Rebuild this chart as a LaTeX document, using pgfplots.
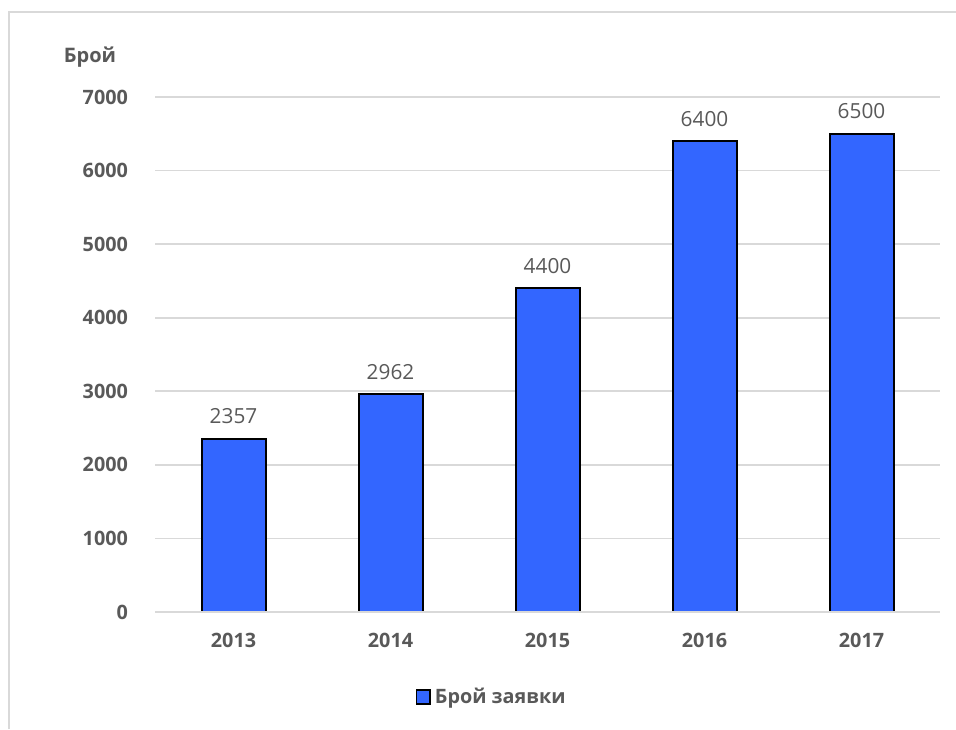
\documentclass[border=0pt]{standalone}
\usepackage{pgfplots}
\pgfplotsset{compat=1.18}
\usepackage{fontspec}
\setmainfont{Open Sans}
\definecolor{barblue}{RGB}{51,102,255}
\definecolor{txtgray}{RGB}{89,89,89}
\definecolor{gridgray}{RGB}{217,217,217}
\begin{document}
\begin{tikzpicture}[x=1pt,y=1pt]
\useasboundingbox (0,0) rectangle (478,364.5);
% chart frame (left and top edges visible)
\draw[gridgray, line width=0.9pt] (4.5,0) -- (4.5,358.3) -- (478,358.3);
\begin{axis}[
  at={(77.5pt,58.5pt)}, anchor=south west,
  scale only axis,
  width=392.5pt, height=257.5pt,
  ybar, bar width=32pt,
  xmin=-0.5, xmax=4.5,
  ymin=0, ymax=7000,
  ytick={0,1000,...,7000},
  xtick=data,
  xticklabels={2013,2014,2015,2016,2017},
  /pgf/number format/assume math mode=true,
  /pgf/number format/1000 sep={},
  axis line style={draw=none},
  major tick length=0pt,
  ymajorgrids, grid style={gridgray, line width=0.9pt},
  tick label style={font=\bfseries\fontsize{9.9}{11}\selectfont, text=txtgray},
  yticklabel style={xshift=-10pt},
  xticklabel style={yshift=-7pt},
  nodes near coords,
  every node near coord/.append style={font=\fontsize{10.4}{12}\selectfont, text=txtgray, yshift=3.5pt},
  legend style={at={(0.43,-0.165)}, anchor=center, draw=none, fill=none,
    font=\bfseries\fontsize{9.9}{11}\selectfont, text=txtgray,
    /tikz/every even column/.append style={column sep=2pt}},
  legend image code/.code={\draw[#1, line width=0.9pt] (0pt,-3.4pt) rectangle (6.8pt,3.4pt);},
  clip=false,
]
\addplot[fill=barblue, draw=black, line width=1pt] coordinates {(0,2357) (1,2962) (2,4400) (3,6400) (4,6500)};
\addlegendentry{Брой заявки}
\draw[gridgray, line width=0.9pt] (axis cs:-0.5,0) -- (axis cs:4.5,0);
\end{axis}
\node[font=\bfseries\fontsize{10}{12}\selectfont, text=txtgray] at (45,336) {Брой};
\end{tikzpicture}
\end{document}
